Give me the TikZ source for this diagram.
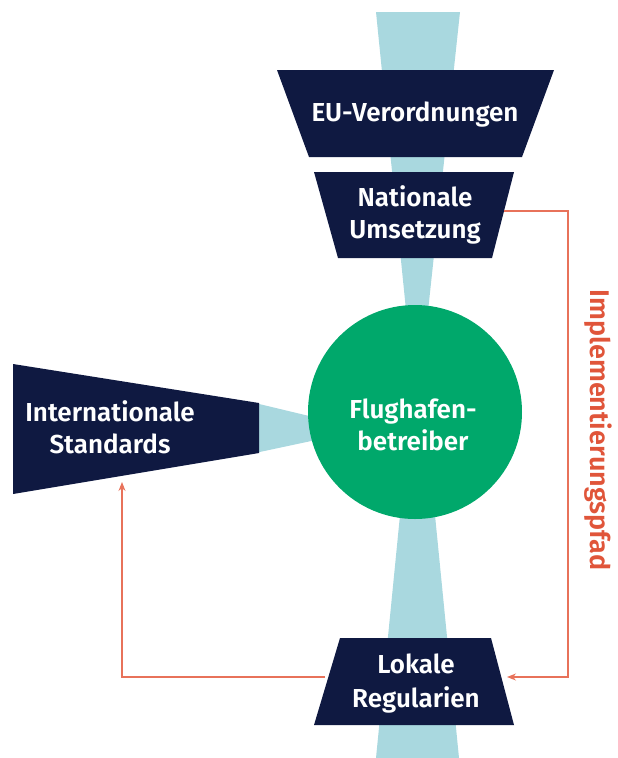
\documentclass[tikz,border=0pt]{standalone}
\usepackage{fontspec}
\setmainfont{Fira Sans}[BoldFont={Fira Sans SemiBold}]
\definecolor{navy}{HTML}{0F1941}
\definecolor{beam}{HTML}{A9D8DF}
\definecolor{hub}{HTML}{00A86B}
\definecolor{pathred}{HTML}{E8725A}
\definecolor{labelred}{HTML}{E0553A}
\tikzset{
  block/.style={fill=navy},
  flow/.style={fill=beam},
  lbl/.style={text=white,font=\bfseries\fontsize{26}{32}\selectfont,align=center},
  link/.style={draw=pathred,line width=1.1pt,-{Stealth[length=9pt,width=7pt]}},
}
\usetikzlibrary{arrows.meta}
\begin{document}
\begin{tikzpicture}[x=1pt,y=-1pt]
\useasboundingbox (0,0) rectangle (618,758);
% light flow beams behind the blocks
\fill[flow] (376,12) -- (460,12) -- (426,330) -- (408,330) -- cycle;
\fill[flow] (255,403) -- (330,421) -- (330,437) -- (255,453) -- cycle;
\fill[flow] (401.5,500) -- (433.5,500) -- (459,758) -- (376,758) -- cycle;
% regulation blocks
\fill[block] (277,70) -- (554,70) -- (522,157) -- (309,157) -- cycle;
\fill[block] (314,172) -- (514,172) -- (492,258) -- (338,258) -- cycle;
\fill[block] (13,364) -- (259,403) -- (259,453) -- (13,494) -- cycle;
\fill[block] (340,638) -- (491,638) -- (514,725) -- (314,725) -- cycle;
% operator hub
\node[circle,fill=hub,minimum size=214pt,inner sep=0pt] (hub) at (415,412) {};
% labels
\node[lbl] (eu) at (415,115) {EU-Verordnungen};
\node[lbl] (nat) at (415,215) {Nationale\\Umsetzung};
\node[lbl] (int) at (110,427) {Internationale\\Standards};
\node[lbl] (hubtxt) at (413,425) {Flughafen-\\betreiber};
\node[lbl,font=\bfseries\fontsize{26}{34}\selectfont] (lok) at (416,684) {Lokale\\Regularien};
\node[text=labelred,font=\bfseries\fontsize{27}{30}\selectfont,rotate=-90] (impl) at (598,430) {Implementierungspfad};
% connector anchor points on block edges
\coordinate (natR) at (504,211);
\coordinate (lokR) at (507,677);
\coordinate (lokL) at (325,677);
\coordinate (intB) at (122,482);
% implementation paths
\draw[link] (natR) -- (568,211) -- (568,677) -- (lokR);
\draw[link] (lokL) -- (122,677) -- (intB);
\end{tikzpicture}
\end{document}
